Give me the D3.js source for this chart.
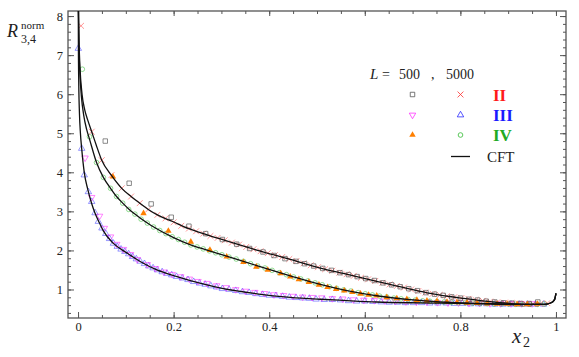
<!DOCTYPE html>
<html>
<head>
<meta charset="utf-8">
<script src="https://cdn.jsdelivr.net/npm/d3@7"></script>
<style>
  body { margin: 0; background: #fff; }
  svg text { font-family: "Liberation Serif", "Times New Roman", "DejaVu Serif", serif; }
</style>
</head>
<body>
<div id="chart"></div>
<script>
// CFT curves (x2, R)
var cftII_x = [0.0008, 0.002, 0.004, 0.0084, 0.014, 0.02, 0.0286, 0.038, 0.0496, 0.07, 0.0914, 0.111, 0.129, 0.147, 0.166, 0.198, 0.229, 0.27, 0.304, 0.374, 0.444, 0.507, 0.555, 0.625, 0.695, 0.737, 0.807, 0.876, 0.946, 0.975, 0.99, 0.997, 1.0];
var cftII_y = [8.3, 7.4, 6.7, 6.0, 5.6, 5.35, 5.04, 4.7, 4.31, 3.92, 3.59, 3.38, 3.21, 3.05, 2.91, 2.74, 2.57, 2.40, 2.27, 2.01, 1.77, 1.55, 1.41, 1.21, 1.01, 0.90, 0.77, 0.67, 0.62, 0.62, 0.66, 0.74, 0.90];
var cftIV_x = [0.0007, 0.002, 0.004, 0.007, 0.012, 0.018, 0.024, 0.0387, 0.053, 0.068, 0.0806, 0.0935, 0.106, 0.119, 0.132, 0.153, 0.2, 0.234, 0.27, 0.304, 0.374, 0.444, 0.507, 0.555, 0.625, 0.695, 0.758, 0.85, 0.93, 0.975, 0.99, 0.997, 1.0];
var cftIV_y = [8.3, 7.2, 6.5, 5.95, 5.45, 5.1, 4.85, 4.25, 3.87, 3.59, 3.38, 3.21, 3.06, 2.93, 2.81, 2.64, 2.33, 2.15, 2.01, 1.88, 1.61, 1.35, 1.13, 0.99, 0.84, 0.74, 0.68, 0.64, 0.62, 0.62, 0.66, 0.74, 0.90];
var cftIII_x = [0.0005, 0.0008, 0.0015, 0.003, 0.005, 0.0077, 0.013, 0.02, 0.028, 0.035, 0.045, 0.053, 0.074, 0.103, 0.131, 0.165, 0.207, 0.255, 0.304, 0.374, 0.444, 0.507, 0.555, 0.625, 0.695, 0.758, 0.85, 0.93, 0.975, 0.99, 0.997, 1.0];
var cftIII_y = [8.3, 7.2, 6.3, 5.5, 5.0, 4.6, 4.0, 3.58, 3.22, 2.97, 2.7, 2.5, 2.18, 1.93, 1.71, 1.50, 1.33, 1.16, 1.02, 0.89, 0.80, 0.75, 0.72, 0.68, 0.66, 0.65, 0.63, 0.62, 0.62, 0.66, 0.74, 0.90];

// L = 500 points
var II500_x = [0.057, 0.107, 0.153, 0.195, 0.232, 0.267, 0.302, 0.332, 0.359, 0.387, 0.41, 0.433, 0.456, 0.474, 0.493, 0.512, 0.53, 0.548, 0.566, 0.584, 0.602, 0.62, 0.638, 0.656, 0.674, 0.692, 0.71, 0.728, 0.746, 0.764, 0.782, 0.80, 0.818, 0.836, 0.854, 0.872, 0.89, 0.908, 0.926, 0.944, 0.962];
var II500_y = [4.80, 3.72, 3.19, 2.85, 2.62, 2.43, 2.28, 2.16, 2.05, 1.96, 1.87, 1.79, 1.72, 1.66, 1.60, 1.54, 1.49, 1.43, 1.38, 1.33, 1.28, 1.23, 1.17, 1.12, 1.07, 1.02, 0.97, 0.92, 0.88, 0.85, 0.81, 0.78, 0.75, 0.73, 0.70, 0.68, 0.66, 0.65, 0.64, 0.64, 0.68];
var III500_x = [0.0147, 0.0286, 0.045, 0.055, 0.068, 0.081, 0.095, 0.11, 0.124, 0.145, 0.162, 0.18, 0.197, 0.215, 0.233, 0.251, 0.27, 0.29, 0.31, 0.33, 0.35, 0.37, 0.39, 0.41, 0.43, 0.45, 0.47, 0.49, 0.51, 0.532, 0.554, 0.576, 0.598, 0.62, 0.642, 0.664, 0.686, 0.708, 0.73, 0.752, 0.774, 0.796, 0.818, 0.84, 0.862, 0.884, 0.906, 0.928, 0.95];
var III500_y = [4.37, 3.36, 2.88, 2.57, 2.35, 2.16, 2.03, 1.90, 1.77, 1.64, 1.54, 1.45, 1.39, 1.33, 1.27, 1.21, 1.16, 1.10, 1.05, 1.00, 0.96, 0.93, 0.90, 0.87, 0.85, 0.83, 0.81, 0.80, 0.79, 0.77, 0.76, 0.74, 0.73, 0.72, 0.71, 0.70, 0.69, 0.68, 0.68, 0.67, 0.66, 0.66, 0.65, 0.65, 0.64, 0.64, 0.64, 0.64, 0.64];
var IV500_x = [0.073, 0.137, 0.189, 0.236, 0.276, 0.311, 0.346, 0.373, 0.397, 0.424, 0.444, 0.462, 0.483, 0.504, 0.522, 0.54, 0.557, 0.574, 0.591, 0.608, 0.625, 0.646, 0.667, 0.688, 0.709, 0.73, 0.751, 0.772, 0.793, 0.814, 0.835, 0.856, 0.877, 0.898, 0.919, 0.94, 0.961];
var IV500_y = [3.89, 2.95, 2.50, 2.22, 2.01, 1.84, 1.70, 1.58, 1.50, 1.41, 1.33, 1.26, 1.19, 1.12, 1.06, 1.01, 0.97, 0.93, 0.89, 0.86, 0.84, 0.80, 0.77, 0.75, 0.73, 0.71, 0.70, 0.68, 0.67, 0.66, 0.65, 0.64, 0.63, 0.63, 0.62, 0.62, 0.63];

// L = 5000 points
var II5000_x = [0.0063, 0.0286, 0.0496, 0.070, 0.0914, 0.111, 0.129, 0.147, 0.166, 0.183, 0.200, 0.216, 0.232, 0.247, 0.262, 0.277, 0.292, 0.307, 0.322, 0.337, 0.352, 0.367, 0.382, 0.397, 0.412, 0.427, 0.442, 0.457, 0.472, 0.487, 0.502, 0.517, 0.532, 0.547, 0.562, 0.577, 0.592, 0.607, 0.622, 0.637, 0.652, 0.667, 0.682, 0.697, 0.712, 0.727, 0.742, 0.757, 0.772, 0.787, 0.802, 0.817, 0.832, 0.847, 0.862, 0.877, 0.892, 0.907, 0.922, 0.937, 0.952, 0.967, 0.982];
var II5000_y = [7.75, 5.04, 4.31, 3.93, 3.59, 3.38, 3.21, 3.05, 2.91, 2.82, 2.72, 2.63, 2.56, 2.49, 2.43, 2.37, 2.32, 2.26, 2.20, 2.15, 2.09, 2.03, 1.98, 1.93, 1.88, 1.83, 1.78, 1.73, 1.67, 1.62, 1.57, 1.52, 1.48, 1.43, 1.39, 1.35, 1.30, 1.26, 1.22, 1.17, 1.13, 1.09, 1.05, 1.00, 0.96, 0.92, 0.89, 0.86, 0.83, 0.80, 0.78, 0.76, 0.73, 0.71, 0.69, 0.67, 0.66, 0.65, 0.64, 0.63, 0.63, 0.63, 0.65];
var III5000_x = [0.0006, 0.0077, 0.013, 0.0216, 0.0286, 0.0356, 0.0425, 0.050, 0.058, 0.066, 0.074, 0.082, 0.090, 0.098, 0.106, 0.114, 0.122, 0.130, 0.139, 0.148, 0.157, 0.166, 0.176, 0.186, 0.196, 0.206, 0.218, 0.230, 0.242, 0.254, 0.266, 0.278, 0.290, 0.302, 0.316, 0.330, 0.344, 0.358, 0.372, 0.386, 0.400, 0.414, 0.428, 0.442, 0.456, 0.470, 0.484, 0.498, 0.515, 0.532, 0.549, 0.566, 0.583, 0.600, 0.617, 0.634, 0.651, 0.668, 0.685, 0.702, 0.719, 0.736, 0.753, 0.770, 0.787, 0.804, 0.821, 0.838, 0.855, 0.872, 0.889, 0.906, 0.923, 0.940, 0.957, 0.974];
var III5000_y = [7.17, 4.61, 3.93, 3.50, 3.25, 2.96, 2.74, 2.57, 2.43, 2.30, 2.18, 2.10, 2.03, 1.97, 1.91, 1.84, 1.78, 1.72, 1.66, 1.60, 1.55, 1.50, 1.45, 1.41, 1.37, 1.33, 1.29, 1.25, 1.20, 1.16, 1.13, 1.09, 1.06, 1.02, 1.00, 0.97, 0.94, 0.92, 0.89, 0.87, 0.85, 0.84, 0.82, 0.80, 0.79, 0.78, 0.77, 0.75, 0.74, 0.74, 0.73, 0.71, 0.70, 0.70, 0.69, 0.68, 0.67, 0.67, 0.66, 0.66, 0.66, 0.65, 0.65, 0.65, 0.64, 0.64, 0.63, 0.63, 0.63, 0.62, 0.62, 0.62, 0.62, 0.62, 0.62, 0.62];
var IV5000_x = [0.009, 0.024, 0.0387, 0.053, 0.068, 0.0806, 0.0935, 0.106, 0.119, 0.132, 0.145, 0.158, 0.171, 0.184, 0.197, 0.210, 0.223, 0.236, 0.249, 0.262, 0.275, 0.288, 0.301, 0.316, 0.331, 0.346, 0.361, 0.376, 0.391, 0.406, 0.421, 0.436, 0.451, 0.466, 0.481, 0.496, 0.511, 0.526, 0.541, 0.556, 0.571, 0.586, 0.601, 0.616, 0.631, 0.646, 0.661, 0.676, 0.691, 0.706, 0.721, 0.736, 0.751, 0.766, 0.781, 0.796, 0.811, 0.826, 0.841, 0.856, 0.871, 0.886, 0.901, 0.916, 0.931, 0.946, 0.961, 0.976];
var IV5000_y = [6.64, 4.91, 4.25, 3.87, 3.59, 3.38, 3.21, 3.05, 2.93, 2.80, 2.70, 2.60, 2.51, 2.43, 2.35, 2.28, 2.21, 2.14, 2.09, 2.04, 1.99, 1.94, 1.89, 1.83, 1.78, 1.72, 1.66, 1.60, 1.55, 1.49, 1.43, 1.38, 1.32, 1.27, 1.22, 1.17, 1.12, 1.07, 1.03, 0.99, 0.96, 0.92, 0.89, 0.86, 0.83, 0.81, 0.78, 0.76, 0.74, 0.73, 0.71, 0.70, 0.69, 0.68, 0.67, 0.66, 0.66, 0.65, 0.64, 0.64, 0.63, 0.63, 0.63, 0.62, 0.62, 0.62, 0.62, 0.63];

var xTicks = [0, 0.2, 0.4, 0.6, 0.8, 1];
var xTickLabels = ["0", "0.2", "0.4", "0.6", "0.8", "1"];
var yTicks = [1, 2, 3, 4, 5, 6, 7, 8];

var colSquare = "#555555", colX = "#ff3030", colDown = "#ff33ff", colUp = "#2a2aff", colFill = "#ff7f00", colCirc = "#33bb33";
var serif = "Liberation Serif";

// set the dimensions and margins of the graph
var W = 579, H = 357;
var margin = {top: 11, right: 13, bottom: 39, left: 68},
    width = W - margin.left - margin.right,
    height = H - margin.top - margin.bottom;

var svg = d3.select("#chart")
  .append("svg")
    .attr("width", W)
    .attr("height", H)
  .append("g")
    .attr("transform", "translate(" + margin.left + "," + margin.top + ")");

var x = d3.scaleLinear().domain([-0.021, 1.021]).range([0, width]);
var y = d3.scaleLinear().domain([0.27, 8.13]).range([height, 0]);

svg.append("clipPath").attr("id", "clip")
  .append("rect").attr("width", width).attr("height", height);

// axes with inward ticks on all four sides
var frameCol = "#555";
function styleAxis(g) {
  g.attr("font-family", serif);
  g.select(".domain").remove();
  g.selectAll("line").attr("stroke", frameCol).attr("stroke-width", 1);
}
var xMinor = d3.range(0, 1.001, 0.05);
var yMinor = d3.range(0.4, 8.1, 0.2);

svg.append("g").attr("transform", "translate(0," + height + ")")
  .call(d3.axisBottom(x).tickValues(xMinor).tickSize(-3).tickFormat("")).call(styleAxis);
svg.append("g").attr("transform", "translate(0," + height + ")")
  .call(d3.axisBottom(x).tickValues(xTicks).tickSize(-6).tickPadding(4.5)
    .tickFormat(function(d, i) { return xTickLabels[i]; }))
  .call(styleAxis)
  .selectAll("text").attr("font-size", 12.5).attr("fill", "#222");
svg.append("g")
  .call(d3.axisTop(x).tickValues(xMinor).tickSize(-3).tickFormat("")).call(styleAxis);
svg.append("g")
  .call(d3.axisTop(x).tickValues(xTicks).tickSize(-5).tickFormat("")).call(styleAxis);

svg.append("g")
  .call(d3.axisLeft(y).tickValues(yMinor).tickSize(-3).tickFormat("")).call(styleAxis);
svg.append("g")
  .call(d3.axisLeft(y).tickValues(yTicks).tickSize(-6).tickPadding(5).tickFormat(d3.format("d")))
  .call(styleAxis)
  .selectAll("text").attr("font-size", 12.5).attr("fill", "#222");
svg.append("g").attr("transform", "translate(" + width + ",0)")
  .call(d3.axisRight(y).tickValues(yMinor).tickSize(-3).tickFormat("")).call(styleAxis);
svg.append("g").attr("transform", "translate(" + width + ",0)")
  .call(d3.axisRight(y).tickValues(yTicks).tickSize(-6).tickFormat("")).call(styleAxis);

svg.append("rect")
  .attr("width", width).attr("height", height)
  .attr("fill", "none").attr("stroke", frameCol).attr("stroke-width", 1.3);

var plot = svg.append("g").attr("clip-path", "url(#clip)");

// marker shapes
var sym = {
  square: d3.symbol().type(d3.symbolSquare).size(20),
  cross: d3.symbol().type(d3.symbolX).size(24),
  up: d3.symbol().type(d3.symbolTriangle).size(18),
  circle: d3.symbol().type(d3.symbolCircle).size(17)
};

function drawPoints(xs, ys, shape, col, filled, rot, op) {
  plot.append("g").selectAll("path")
    .data(xs.map(function(d, i) { return [d, ys[i]]; }))
    .enter().append("path")
      .attr("d", sym[shape])
      .attr("transform", function(d) {
        return "translate(" + x(d[0]) + "," + y(d[1]) + ")" + (rot ? " rotate(180)" : "");
      })
      .attr("fill", filled ? col : "none")
      .attr("stroke", filled ? "none" : col)
      .attr("stroke-width", 0.8)
      .attr("opacity", op);
}

drawPoints(III5000_x, III5000_y, "up", colUp, false, false, 0.6);
drawPoints(III500_x, III500_y, "up", colDown, false, true, 0.75);
drawPoints(IV5000_x, IV5000_y, "circle", colCirc, false, false, 0.65);
drawPoints(II5000_x, II5000_y, "cross", colX, false, false, 0.65);
drawPoints(II500_x, II500_y, "square", colSquare, false, false, 0.85);
drawPoints(IV500_x, IV500_y, "up", colFill, true, false, 1);

// CFT lines
var line = d3.line()
  .x(function(d) { return x(d[0]); })
  .y(function(d) { return y(d[1]); })
  .curve(d3.curveMonotoneX);
[[cftII_x, cftII_y], [cftIV_x, cftIV_y], [cftIII_x, cftIII_y]].forEach(function(c) {
  plot.append("path")
    .datum(c[0].map(function(d, i) { return [d, c[1][i]]; }))
    .attr("fill", "none")
    .attr("stroke", "#111")
    .attr("stroke-width", 1.3)
    .attr("d", line);
});

// axis titles
var root = d3.select("svg");
root.append("text").attr("x", 7).attr("y", 37).attr("font-size", 18)
  .attr("font-style", "italic").attr("fill", "#222").text("R");
root.append("text").attr("x", 21).attr("y", 29).attr("font-size", 11).attr("fill", "#222").text("norm");
root.append("text").attr("x", 21).attr("y", 43).attr("font-size", 12).attr("fill", "#222").text("3,4");

root.append("text").attr("x", 512).attr("y", 343).attr("font-size", 21)
  .attr("font-style", "italic").attr("fill", "#222").text("x");
root.append("text").attr("x", 523).attr("y", 347).attr("font-size", 14)
  .attr("fill", "#222").text("2");

// legend
var lg = root.append("g");
lg.append("text").attr("x", 370).attr("y", 79).attr("font-size", 15).attr("font-style", "italic")
  .attr("fill", "#222").text("L");
lg.append("text").attr("x", 382).attr("y", 79).attr("font-size", 14).attr("fill", "#222").text("=");
lg.append("text").attr("x", 399).attr("y", 79).attr("font-size", 14).attr("fill", "#222").text("500");
lg.append("text").attr("x", 431).attr("y", 79).attr("font-size", 14).attr("fill", "#222").text(",");
lg.append("text").attr("x", 446).attr("y", 79).attr("font-size", 14).attr("fill", "#222").text("5000");

var rows = [
  {y: 94.5, s1: ["square", colSquare, false, false], s2: ["cross", colX, false, false], lab: "II", col: "#ff1a1a"},
  {y: 115, s1: ["up", colDown, false, true], s2: ["up", colUp, false, false], lab: "III", col: "#1a1aff"},
  {y: 135, s1: ["up", colFill, true, false], s2: ["circle", colCirc, false, false], lab: "IV", col: "#22aa22"}
];
rows.forEach(function(r) {
  [[412.5, r.s1], [460.5, r.s2]].forEach(function(p) {
    var s = p[1];
    lg.append("path").attr("d", sym[s[0]])
      .attr("transform", "translate(" + p[0] + "," + r.y + ")" + (s[3] ? " rotate(180)" : ""))
      .attr("fill", s[2] ? s[1] : "none")
      .attr("stroke", s[2] ? "none" : s[1])
      .attr("stroke-width", 0.8);
  });
  lg.append("text").attr("x", 493).attr("y", r.y + 6).attr("font-size", 17)
    .attr("font-weight", "bold").attr("fill", r.col).text(r.lab);
});
lg.append("line").attr("x1", 451).attr("x2", 470).attr("y1", 156.5).attr("y2", 156.5)
  .attr("stroke", "#111").attr("stroke-width", 1.3);
lg.append("text").attr("x", 487).attr("y", 162).attr("font-size", 15).attr("fill", "#222").text("CFT");
</script>
</body>
</html>
